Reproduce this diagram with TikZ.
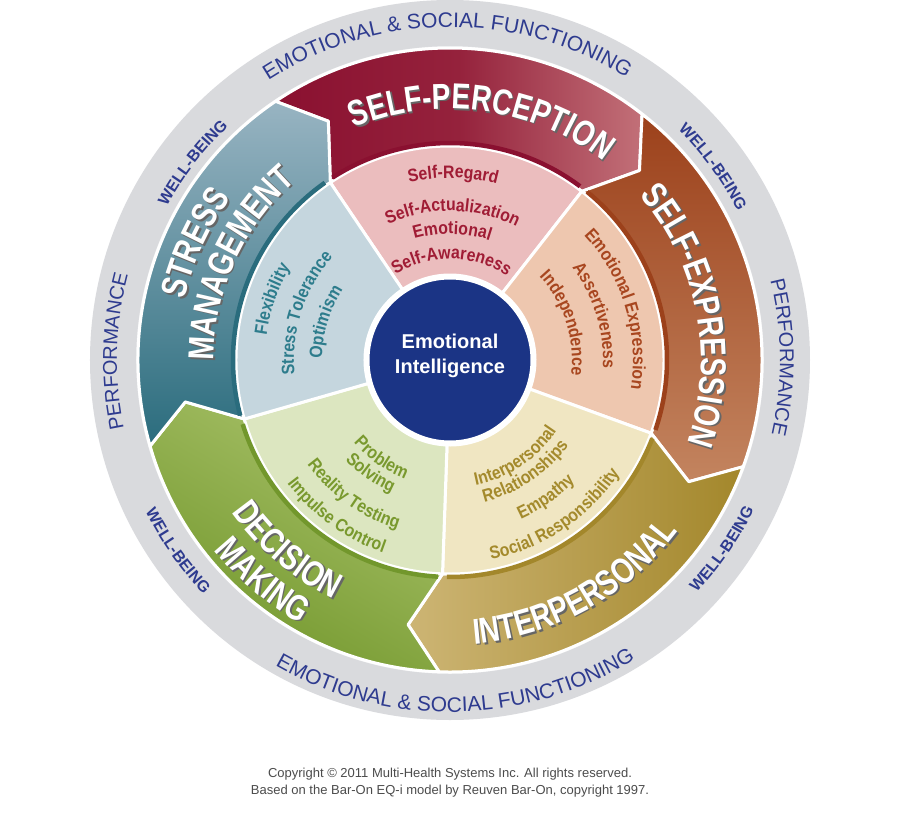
\documentclass[tikz,border=0pt]{standalone}
\usepackage{fontspec}
\setmainfont{Liberation Sans}
\newfontfamily\bandfont[FakeStretch=0.78]{Liberation Sans}
\newfontfamily\itemfont[FakeStretch=0.88]{Liberation Sans}
\usetikzlibrary{decorations.text}

% ring and centre
\definecolor{ringgrey}{HTML}{D9DADD}
\definecolor{ringblue}{HTML}{2E3B8F}
\definecolor{einavy}{HTML}{1B3485}
% self-perception
\definecolor{spdark}{HTML}{8A1030}
\definecolor{spmid}{HTML}{95223C}
\definecolor{splight}{HTML}{C27078}
\definecolor{spcore}{HTML}{EBBDBE}
\definecolor{sptext}{HTML}{A01C35}
% self-expression
\definecolor{sedark}{HTML}{9C411B}
\definecolor{selight}{HTML}{C3845F}
\definecolor{secore}{HTML}{EEC7AF}
\definecolor{setext}{HTML}{A8461F}
% interpersonal
\definecolor{ipdark}{HTML}{A3872B}
\definecolor{iplight}{HTML}{CDB574}
\definecolor{ipcore}{HTML}{F0E6C2}
\definecolor{iptext}{HTML}{A48A2C}
% decision making
\definecolor{dmdark}{HTML}{72972C}
\definecolor{dmlight}{HTML}{A9C26A}
\definecolor{dmcore}{HTML}{DCE6C0}
\definecolor{dmtext}{HTML}{79992E}
% stress management
\definecolor{smdark}{HTML}{2A6C7D}
\definecolor{smlight}{HTML}{98B4C2}
\definecolor{smcore}{HTML}{C5D6DE}
\definecolor{smtext}{HTML}{2D7C8C}

\newcommand{\bandsize}{\bandfont\bfseries\fontsize{36}{40}\selectfont}
\newcommand{\itemsize}{\itemfont\bfseries\fontsize{18}{20}\selectfont}
\newcommand{\ringsize}{\fontsize{21}{23}\selectfont}
\newcommand{\wellsize}{\bfseries\fontsize{16}{18}\selectfont}
\newcommand{\perfsize}{\fontsize{20}{22}\selectfont}

% chevron band between two boundary angles (ccw, cw)
\newcommand{\bandpath}[2]{(#1:312) arc[start angle=#1, end angle=#2, radius=312] -- ({#2-7}:268) -- (#2:214) arc[start angle=#2, end angle=#1, radius=214] -- ({#1-7}:268) -- cycle}
% inner wedge between two boundary angles
\newcommand{\corepath}[2]{(#1:85) -- (#1:214) arc[start angle=#1, end angle=#2, radius=214] -- (#2:85) arc[start angle=#2, end angle=#1, radius=85] -- cycle}

% text on a circle: radius, centre angle, colour, font, text
\newcommand{\cwtext}[5]{\path[decorate, decoration={text along path, text align=center, text color=#3, text={|#4|#5}}] ({#2+85}:#1) arc[start angle={#2+85}, end angle={#2-85}, radius=#1];}
\newcommand{\ccwtext}[5]{\path[decorate, decoration={text along path, text align=center, text color=#3, text={|#4|#5}}] ({#2-85}:#1) arc[start angle={#2-85}, end angle={#2+85}, radius=#1];}
% white band titles with a drop shadow
\newcommand{\cwlabel}[3]{\begin{scope}[shift={(1.6,-1.6)}]\cwtext{#1}{#2}{black!60}{\bandsize}{#3}\end{scope}\cwtext{#1}{#2}{white}{\bandsize}{#3}}
\newcommand{\ccwlabel}[3]{\begin{scope}[shift={(1.6,-1.6)}]\ccwtext{#1}{#2}{black!60}{\bandsize}{#3}\end{scope}\ccwtext{#1}{#2}{white}{\bandsize}{#3}}

\begin{document}
\begin{tikzpicture}[x=1pt, y=1pt,
    band/.style={draw=white, line width=3pt, line join=round},
    core/.style={draw=white, line width=3pt, line join=round},
    rim/.style={line width=4.5pt},
    copyline/.style={text=black!70, font=\fontsize{13}{15}\selectfont, inner sep=0pt}]

	\useasboundingbox (-450,-460) rectangle (450,360);
	\fill[white] (-450,-460) rectangle (450,360);

	% 1. THE GREY RING
	\fill[ringgrey] (0,0) circle (360);
	\draw[white!60!ringgrey, line width=1.5pt] (0,0) circle (313);

	% 2. OUTER BANDS (chevrons pointing clockwise)
	\path[band, left color=spdark, right color=splight, middle color=spmid] \bandpath{124}{52};
	\path[band, top color=sedark, bottom color=selight] \bandpath{52}{-20};
	\path[band, left color=iplight, right color=ipdark] \bandpath{-20}{-92};
	\path[band, top color=dmlight, bottom color=dmdark, shading angle=-30] \bandpath{-92}{-164};
	\path[band, top color=smlight, bottom color=smdark] \bandpath{196}{124};

	% 3. INNER WEDGES
	\path[core, fill=spcore] \corepath{124}{52};
	\path[core, fill=secore] \corepath{52}{-20};
	\path[core, fill=ipcore] \corepath{-20}{-92};
	\path[core, fill=dmcore] \corepath{-92}{-164};
	\path[core, fill=smcore] \corepath{196}{124};

	% rims between band and wedge
	\draw[rim, spdark] (122.8:217) arc[start angle=122.8, end angle=53.2, radius=217];
	\draw[rim, sedark] (50.8:217) arc[start angle=50.8, end angle=-18.8, radius=217];
	\draw[rim, ipdark] (-21.2:217) arc[start angle=-21.2, end angle=-90.8, radius=217];
	\draw[rim, dmdark] (-93.2:217) arc[start angle=-93.2, end angle=-162.8, radius=217];
	\draw[rim, smdark] (194.8:217) arc[start angle=194.8, end angle=125.2, radius=217];

	% 4. CENTRE
	\node[circle, fill=einavy, draw=white, line width=5pt, minimum size=166pt, inner sep=0pt] (ei) at (0,0) {};
	\node[text=white, align=center, font=\bfseries\fontsize{20}{25}\selectfont] (eilabel) at ([yshift=4.5pt]ei.center) {Emotional\\Intelligence};

	% 5. BAND TITLES
	\cwlabel{251}{82.4}{SELF-PERCEPTION}
	\cwlabel{251}{10.8}{SELF-EXPRESSION}
	\ccwlabel{285}{-61}{INTERPERSONAL}
	\ccwlabel{266}{-130.5}{DECISION}
	\ccwlabel{303}{-130.4}{MAKING}
	\cwlabel{272}{155.4}{STRESS}
	\cwlabel{236}{155.4}{MANAGEMENT}

	% 6. SUBSCALES
	\cwtext{182}{89}{sptext}{\itemsize}{Self-Regard}
	\cwtext{149}{89}{sptext}{\itemsize}{Self-Actualization}
	\cwtext{126}{89}{sptext}{\itemsize}{Emotional}
	\cwtext{101}{89}{sptext}{\itemsize}{Self-Awareness}

	\cwtext{183}{17}{setext}{\itemsize}{Emotional Expression}
	\cwtext{153}{17}{setext}{\itemsize}{Assertiveness}
	\cwtext{122}{18}{setext}{\itemsize}{Independence}

	\ccwtext{128}{-56}{iptext}{\itemsize}{Interpersonal}
	\ccwtext{146}{-56}{iptext}{\itemsize}{Relationships}
	\ccwtext{174}{-55}{iptext}{\itemsize}{Empathy}
	\ccwtext{204}{-56}{iptext}{\itemsize}{Social Responsibility}

	\ccwtext{127}{-125}{dmtext}{\itemsize}{Problem}
	\ccwtext{145}{-125}{dmtext}{\itemsize}{Solving}
	\ccwtext{177}{-125.5}{dmtext}{\itemsize}{Reality Testing}
	\ccwtext{204}{-126}{dmtext}{\itemsize}{Impulse Control}

	\cwtext{185}{161}{smtext}{\itemsize}{Flexibility}
	\cwtext{156}{162}{smtext}{\itemsize}{Stress Tolerance}
	\cwtext{128}{163}{smtext}{\itemsize}{Optimism}

	% 7. RING WORDS
	\cwtext{333}{90.5}{ringblue}{\ringsize}{EMOTIONAL {\&} SOCIAL FUNCTIONING}
	\ccwtext{352}{-89}{ringblue}{\ringsize}{EMOTIONAL {\&} SOCIAL FUNCTIONING}
	\cwtext{322}{142.5}{ringblue}{\wellsize}{WELL-BEING}
	\cwtext{324}{36.3}{ringblue}{\wellsize}{WELL-BEING}
	\ccwtext{340}{-145}{ringblue}{\wellsize}{WELL-BEING}
	\ccwtext{339}{-34.8}{ringblue}{\wellsize}{WELL-BEING}
	\cwtext{333}{178.5}{ringblue}{\perfsize}{PERFORMANCE}
	\cwtext{330}{0.5}{ringblue}{\perfsize}{PERFORMANCE}

	% 8. COPYRIGHT
	\node[copyline] (copy1) at (0,-414) {Copyright © 2011 Multi-Health Systems Inc. All rights reserved.};
	\node[copyline] (copy2) at (0,-431) {Based on the Bar-On EQ-i model by Reuven Bar-On, copyright 1997.};

\end{tikzpicture}
\end{document}
